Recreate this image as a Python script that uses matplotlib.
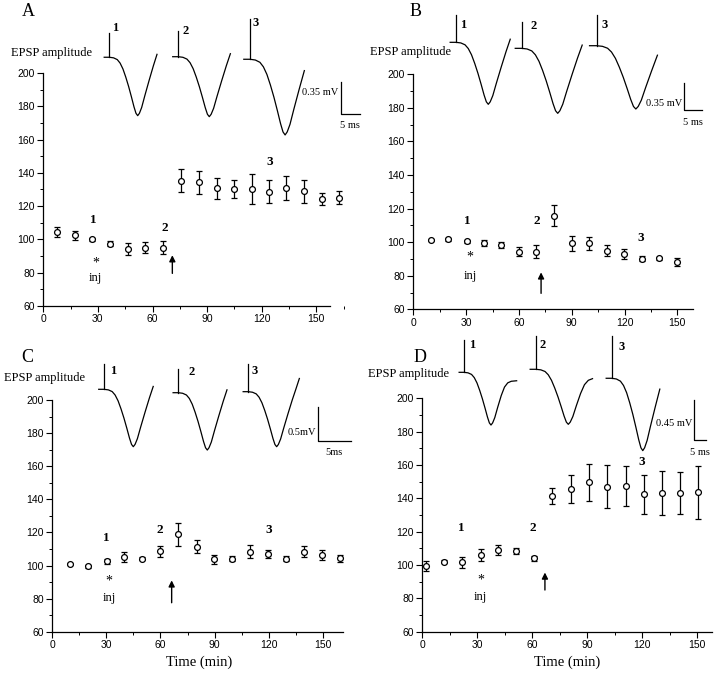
import matplotlib.pyplot as plt
from matplotlib.ticker import MultipleLocator

# ---- summary data: time (min), EPSP amplitude (% of baseline), SEM ----
A_t = [7.3, 17.3, 26.7, 36.7, 46.4, 56.0, 65.8, 75.5, 85.5, 95.3, 104.9, 114.5, 124.2, 133.6, 143.3, 153.3, 162.7]
A_y = [104.7, 102.4, 100.0, 97.3, 94.1, 95.1, 95.1, 135.3, 134.3, 130.8, 130.2, 130.2, 128.6, 130.8, 128.8, 124.1, 125.1]
A_e = [3.0, 2.5, 1.0, 1.5, 3.7, 3.3, 3.7, 7.0, 6.8, 6.4, 5.3, 9.0, 7.0, 7.3, 7.2, 3.7, 4.0]

B_t = [10.0, 19.9, 30.3, 40.2, 50.0, 60.0, 69.9, 80.1, 90.0, 100.0, 109.8, 119.9, 129.7, 139.8, 149.6]
B_y = [101.3, 101.7, 100.5, 99.7, 98.3, 94.3, 94.3, 115.8, 99.3, 99.3, 94.9, 92.7, 90.0, 90.4, 88.0]
B_e = [0.8, 0.8, 1.0, 1.8, 1.5, 2.8, 4.0, 6.2, 4.6, 4.0, 3.3, 3.0, 1.5, 1.0, 2.5]

C_t = [9.8, 19.6, 30.1, 39.9, 49.9, 59.7, 69.9, 80.0, 89.8, 99.8, 109.6, 119.8, 129.4, 139.6, 149.5, 159.5]
C_y = [100.9, 99.5, 102.5, 105.0, 104.2, 108.6, 118.9, 111.4, 103.8, 104.2, 108.4, 106.8, 104.0, 108.4, 106.4, 104.4]
C_e = [0.8, 0.8, 1.5, 3.0, 1.0, 3.3, 7.0, 3.8, 2.8, 1.5, 4.0, 2.5, 1.5, 3.2, 3.0, 2.0]

D_t = [1.8, 11.8, 21.5, 31.8, 41.5, 51.3, 61.1, 70.9, 81.1, 91.1, 100.9, 110.9, 120.7, 130.5, 140.5, 150.5]
D_y = [99.4, 102.0, 101.6, 106.0, 109.0, 108.4, 104.0, 141.2, 145.6, 149.6, 147.0, 147.6, 142.4, 143.2, 143.0, 143.6]
D_e = [2.8, 0.8, 3.2, 3.7, 2.8, 2.0, 1.5, 4.8, 8.5, 11.0, 12.7, 12.0, 11.7, 13.0, 12.5, 16.0]

# ---- example EPSP traces: time to peak (ms) and depth (mV) of traces 1,2,3 ----
A_peak = [7.47, 8.16, 9.21]
A_depth = [0.639, 0.656, 0.828]
B_peak = [8.97, 10.0, 10.9]
B_depth = [0.804, 0.843, 0.821]
C_peak = [4.44, 4.39, 4.30]
C_depth = [0.844, 0.843, 0.809]
D_peak = [11.25, 13.46, 12.92]
D_depth = [0.593, 0.619, 0.814]
scale_mV = [0.35, 0.35, 0.5, 0.45]
scale_lbl = ["0.35 mV", "0.35 mV", "0.5mV", "0.45 mV"]
ms_lbl = ["5 ms", "5 ms", "5ms", "5 ms"]

# normalised waveform shapes (time / time-to-peak, fraction of depth)
v_t = [-0.18, 0, 0.15, 0.28, 0.38, 0.48, 0.58, 0.68, 0.78, 0.87, 0.94, 1.0, 1.06, 1.14, 1.25, 1.4, 1.55, 1.68, 1.8]
v_v = [0, 0, -0.01, -0.04, -0.1, -0.2, -0.34, -0.5, -0.68, -0.85, -0.96, -1.0, -0.96, -0.86, -0.66, -0.40, -0.15, 0.05, 0.24]
p_t = [-0.18, 0, 0.15, 0.28, 0.38, 0.48, 0.58, 0.68, 0.78, 0.87, 0.94, 1.0, 1.06, 1.14, 1.25, 1.38, 1.5, 1.62, 1.75, 1.95]
p_v = [0, 0, -0.01, -0.04, -0.1, -0.2, -0.34, -0.5, -0.68, -0.85, -0.96, -1.0, -0.96, -0.86, -0.66, -0.44, -0.28, -0.2, -0.17, -0.16]

W, H = 720, 679
SERIF = "Liberation Serif"
SANS = "Liberation Sans"

fig = plt.figure(figsize=(W / 100, H / 100), dpi=100)

# layout of each panel (pixels)
panels = [
    dict(name="A", t=A_t, y=A_y, e=A_e, peak=A_peak, depth=A_depth,
         x0=43.3, ppu=1.82, xmax=166, ytop=73, ybot=306, xend=157.5,
         letter=(28, 12), epsp=(52, 53),
         ins=(100, 370, 10, 140), pxms=3.8, pxmv=91.4,
         onset=[2.45, 20.6, 39.5], base=[-0.517, -0.511, -0.539], art=[0.262, 0.281, 0.438],
         tend=[1.67, 1.7, 1.62], shape=["v", "v", "v"],
         lbl_off=[(6, -5), (7, 0), (6, 4)], bar=(340.7, 81.7), lbl_dy=11,
         notes=[("1", 27.5, 111.7), ("2", 66.5, 106.7), ("3", 124.2, 146.7)],
         inj=(28.8, 86, 76.6), arrow=(70.9, 79.6, 90.5)),
    dict(name="B", t=B_t, y=B_y, e=B_e, peak=B_peak, depth=B_depth,
         x0=413.3, ppu=1.76, xmax=160, ytop=74.3, ybot=309.3, xend=159,
         letter=(416, 12), epsp=(411, 52),
         ins=(440, 720, 5, 135), pxms=3.6, pxmv=77.1,
         onset=[4.44, 22.7, 43.5], base=[-0.484, -0.562, -0.528], art=[0.354, 0.346, 0.398],
         tend=[1.67, 1.67, 1.65], shape=["v", "v", "v"],
         lbl_off=[(7, 10), (12, 4), (8, 10)], bar=(684.3, 83.3), lbl_dy=20,
         notes=[("1", 30.7, 112.8), ("2", 70.1, 112.8), ("3", 129.4, 102.6)],
         inj=(32.2, 91.3, 79.8), arrow=(72.6, 69.5, 82.0)),
    dict(name="C", t=C_t, y=C_y, e=C_e, peak=C_peak, depth=C_depth,
         x0=52.3, ppu=1.803, xmax=163, ytop=400, ybot=631.7, xend=161.4,
         letter=(27, 357), epsp=(45, 378),
         ins=(90, 360, 350, 470), pxms=6.6, pxmv=68,
         onset=[2.12, 13.38, 23.98], base=[-0.578, -0.628, -0.613], art=[0.368, 0.349, 0.403],
         tend=[1.72, 1.76, 1.8], shape=["v", "v", "v"],
         lbl_off=[(9, 7), (13, 3), (6, 7)], bar=(317.7, 406.7), lbl_dy=26,
         notes=[("1", 30.1, 116.9), ("2", 59.7, 121.5), ("3", 120.3, 121.5)],
         inj=(31.6, 90.8, 80.2), arrow=(66.2, 77.5, 91.0)),
    dict(name="D", t=D_t, y=D_y, e=D_e, peak=D_peak, depth=D_depth,
         x0=422.3, ppu=1.833, xmax=158.5, ytop=398.3, ybot=631.7, xend=158,
         letter=(420, 358), epsp=(408, 374),
         ins=(450, 720, 330, 470), pxms=2.4, pxmv=88.9,
         onset=[5.83, 35.83, 67.4], base=[-0.476, -0.442, -0.543], art=[0.364, 0.375, 0.476],
         tend=[1.95, 1.77, 1.55], shape=["p", "p", "v"],
         lbl_off=[(8, 5), (7, 9), (10, 11)], bar=(694.3, 400), lbl_dy=23,
         notes=[("1", 21.5, 122.4), ("2", 60.5, 122.4), ("3", 119.6, 162.0)],
         inj=(31.8, 91.0, 80.6), arrow=(66.9, 85.0, 95.5)),
]

for i, p in enumerate(panels):
    ax = fig.add_axes([p["x0"] / W, 1 - p["ybot"] / H,
                       p["xmax"] * p["ppu"] / W, (p["ybot"] - p["ytop"]) / H])
    ax.set_xlim(0, p["xmax"])
    ax.set_ylim(60, 200)
    ax.spines[["top", "right"]].set_visible(False)
    ax.spines["left"].set_bounds(60, 200)
    ax.spines["bottom"].set_bounds(0, p["xend"])
    for s in ("left", "bottom"):
        ax.spines[s].set_linewidth(0.9)
    ax.xaxis.set_major_locator(MultipleLocator(30))
    ax.xaxis.set_minor_locator(MultipleLocator(15))
    ax.yaxis.set_major_locator(MultipleLocator(20))
    ax.yaxis.set_minor_locator(MultipleLocator(10))
    ax.tick_params(which="major", length=4, width=0.8, labelsize=7.5, pad=2)
    ax.tick_params(which="minor", length=2, width=0.7)
    for lab in ax.get_xticklabels() + ax.get_yticklabels():
        lab.set_family(SANS)
    ax.patch.set_alpha(0)

    ax.errorbar(p["t"], p["y"], yerr=p["e"], fmt="o", ms=4.2, mfc="white", mec="black",
                mew=0.9, ecolor="black", elinewidth=0.9, capsize=2.2, capthick=0.9,
                clip_on=False, zorder=3)

    for txt, xx, yy in p["notes"]:
        ax.text(xx, yy, txt, family=SERIF, fontweight="bold", fontsize=9.5,
                ha="center", va="center")
    ix, sy, iy = p["inj"]
    ax.text(ix, sy, "*", family=SERIF, fontsize=10, ha="center", va="center")
    ax.text(ix, iy, "inj", family=SERIF, fontsize=9, ha="center", va="center")
    axx, ay0, ay1 = p["arrow"]
    ax.annotate("", xy=(axx, ay1), xytext=(axx, ay0),
                arrowprops=dict(arrowstyle="-|>", color="black", lw=1.0,
                                mutation_scale=9, shrinkA=0, shrinkB=0))

    if p["name"] in ("C", "D"):
        ax.set_xlabel("Time (min)", family=SERIF, fontsize=10.5, labelpad=4)

    fig.text(p["letter"][0] / W, 1 - p["letter"][1] / H, p["name"], family=SERIF,
             fontsize=13, ha="center", va="center")
    fig.text(p["epsp"][0] / W, 1 - p["epsp"][1] / H, "EPSP amplitude", family=SERIF,
             fontsize=9, ha="center", va="center")

    # ---- traces ----
    x0, x1, y0, y1 = p["ins"]
    ins = fig.add_axes([x0 / W, 1 - y1 / H, (x1 - x0) / W, (y1 - y0) / H])
    ins.set_xlim(0, (x1 - x0) / p["pxms"])
    ins.set_ylim(-(y1 - y0) / p["pxmv"], 0)
    ins.axis("off")
    for k in range(3):
        tt, vv = (v_t, v_v) if p["shape"][k] == "v" else (p_t, p_v)
        keep = [j for j in range(len(tt)) if tt[j] <= p["tend"][k] + 0.01]
        xs = [p["onset"][k] + tt[j] * p["peak"][k] for j in keep]
        ys = [p["base"][k] + vv[j] * p["depth"][k] for j in keep]
        ins.plot(xs, ys, color="black", lw=0.9)
        top = p["base"][k] + p["art"][k]
        ins.plot([p["onset"][k], p["onset"][k]], [p["base"][k], top], color="black", lw=0.9)
        dx, dy = p["lbl_off"][k]
        ins.annotate(str(k + 1), (p["onset"][k], top), xytext=(dx, -dy),
                     textcoords="offset pixels", family=SERIF, fontweight="bold",
                     fontsize=9, ha="center", va="center")

    # scale bar
    bx = (p["bar"][0] - x0) / p["pxms"]
    by = -(p["bar"][1] - y0) / p["pxmv"]
    ybar0 = by - scale_mV[i]
    ins.plot([bx, bx, bx + 5], [by, ybar0, ybar0], color="black", lw=0.9)
    ins.annotate(scale_lbl[i], (bx, by), xytext=(-2, -p["lbl_dy"]), textcoords="offset pixels",
                 family=SERIF, fontsize=7.5, ha="right", va="center")
    ins.annotate(ms_lbl[i], (bx + 2.5, ybar0), xytext=(0, -12), textcoords="offset pixels",
                 family=SERIF, fontsize=7.5, ha="center", va="center")

fig.savefig("out.png", dpi=100)
